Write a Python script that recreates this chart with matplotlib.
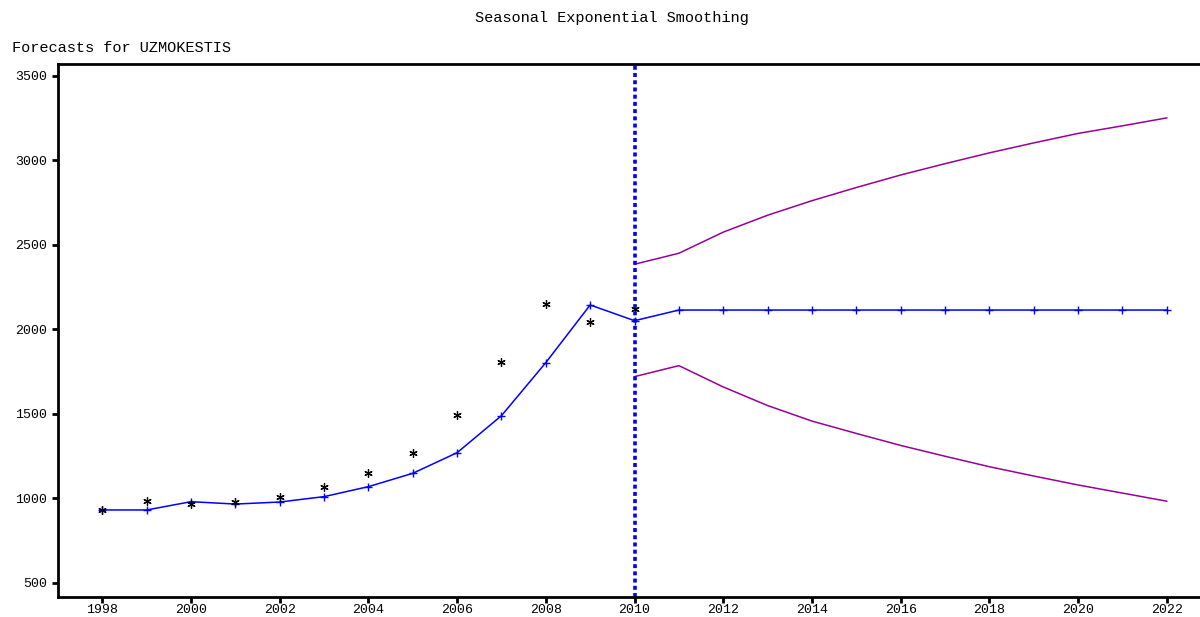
import matplotlib
matplotlib.use("Agg")
import matplotlib.pyplot as plt

# Observed series (annual)
obs_years = [1998, 1999, 2000, 2001, 2002, 2003, 2004, 2005, 2006, 2007, 2008, 2009, 2010]
observed = [932, 983, 965, 979, 1011, 1070, 1149, 1271, 1494, 1810, 2148, 2046, 2119]

# One-step fitted values followed by forecasts
fit_years = list(range(1998, 2023))
fitted = [932, 932, 981, 967, 979, 1011, 1070, 1149, 1271, 1490, 1804, 2145, 2052,
          2115, 2115, 2115, 2115, 2115, 2115, 2115, 2115, 2115, 2115, 2115, 2115]

# Forecast confidence limits
band_years = list(range(2010, 2023))
upper = [2386, 2451, 2576, 2676, 2762, 2840, 2914, 2981, 3045, 3104, 3160, 3205, 3252]
lower = [1721, 1786, 1660, 1550, 1458, 1385, 1314, 1250, 1188, 1133, 1080, 1032, 984]

forecast_origin = 2010
y_ticks = [500, 1000, 1500, 2000, 2500, 3000, 3500]
x_ticks = list(range(1998, 2023, 2))

mono = "Liberation Mono"

fig = plt.figure(figsize=(12, 6.17), dpi=100)
ax = fig.add_axes([0.0483, 0.0324, 0.9517, 0.8639])

ax.plot(band_years, upper, color="#990099", lw=1.1)
ax.plot(band_years, lower, color="#990099", lw=1.1)
ax.plot(fit_years, fitted, color="#0000ff", lw=1.1, marker="+", ms=6, mew=1.0)
ax.plot(obs_years, observed, ls="none", marker=(6, 2, 0), ms=6, mew=0.9, color="black")
ax.axvline(forecast_origin, color="#0000ff", lw=2.6, ls=(0, (1.1, 0.9)))

ax.set_xlim(1997.0, 2022.75)
ax.set_ylim(417, 3571)
ax.set_xticks(x_ticks)
ax.set_yticks(y_ticks)
ax.set_xticklabels([str(x) for x in x_ticks], family=mono, fontsize=9.5)
ax.set_yticklabels([str(y) for y in y_ticks], family=mono, fontsize=9.5)
ax.tick_params(axis="both", direction="out", length=4, width=2.0, color="black")
ax.tick_params(axis="x", pad=1)
ax.tick_params(axis="y", pad=4)

for side in ("left", "bottom", "top"):
    ax.spines[side].set_linewidth(2.0)
ax.spines["right"].set_visible(False)

fig.text(0.51, 0.971, "Seasonal Exponential Smoothing", family=mono, fontsize=11,
         ha="center", va="center")
fig.text(0.010, 0.923, "Forecasts for UZMOKESTIS", family=mono, fontsize=11,
         ha="left", va="center")

fig.savefig("out.png", dpi=100, facecolor="white")
